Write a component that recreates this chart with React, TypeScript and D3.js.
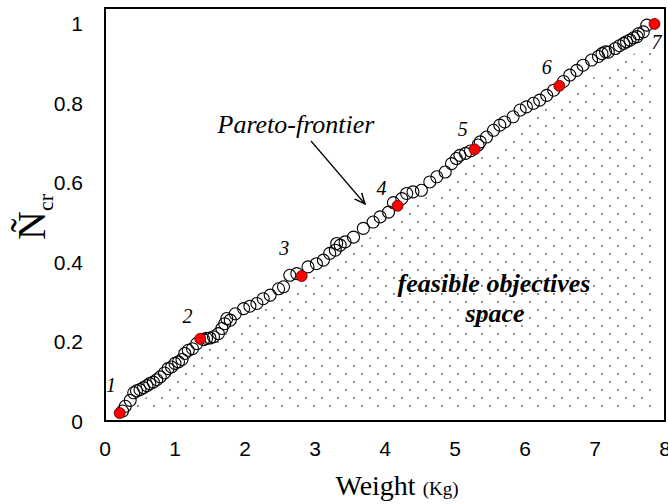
import React from "react";
import * as d3 from "d3";

// Pareto front (hollow circles)
const frontierWeight = [
  0.25, 0.29, 0.36, 0.41, 0.45, 0.5, 0.55, 0.6, 0.64, 0.69, 0.74, 0.79, 0.85, 0.9, 0.95, 1.0, 1.05,
  1.1, 1.14, 1.19, 1.25, 1.31, 1.41, 1.45, 1.5, 1.55, 1.62, 1.67, 1.71, 1.74, 1.79, 1.86, 1.98,
  2.07, 2.17, 2.26, 2.36, 2.48, 2.55, 2.64, 2.74, 2.9, 3.02, 3.12, 3.21, 3.29, 3.31, 3.36, 3.43,
  3.55, 3.69, 3.83, 3.93, 4.05, 4.12, 4.24, 4.31, 4.4, 4.52, 4.64, 4.74, 4.86, 4.95, 5.02, 5.07,
  5.15, 5.22, 5.33, 5.36, 5.45, 5.55, 5.64, 5.71, 5.83, 5.93, 6.02, 6.12, 6.21, 6.31, 6.41, 6.55,
  6.64, 6.74, 6.83, 6.95, 7.05, 7.1, 7.15, 7.19, 7.29, 7.35, 7.41, 7.45, 7.5, 7.55, 7.6, 7.62, 7.69,
  7.74,
];
const frontierN = [
  0.025, 0.037, 0.052, 0.071, 0.076, 0.079, 0.084, 0.089, 0.094, 0.098, 0.104, 0.111, 0.121, 0.132,
  0.136, 0.145, 0.149, 0.155, 0.17, 0.178, 0.182, 0.195, 0.205, 0.208, 0.209, 0.212, 0.22, 0.233,
  0.245, 0.258, 0.254, 0.27, 0.283, 0.289, 0.296, 0.308, 0.317, 0.333, 0.338, 0.367, 0.371, 0.388,
  0.396, 0.405, 0.422, 0.43, 0.447, 0.443, 0.451, 0.463, 0.485, 0.501, 0.514, 0.526, 0.55, 0.56,
  0.573, 0.577, 0.581, 0.602, 0.615, 0.627, 0.648, 0.661, 0.669, 0.674, 0.68, 0.695, 0.703, 0.715,
  0.732, 0.745, 0.753, 0.766, 0.783, 0.791, 0.8, 0.808, 0.82, 0.833, 0.855, 0.871, 0.883, 0.896,
  0.909, 0.918, 0.925, 0.93, 0.929, 0.938, 0.945, 0.951, 0.955, 0.959, 0.965, 0.968, 0.975, 0.98,
  0.997,
];

// highlighted designs 1..7
const selectedWeight = [0.21, 1.36, 2.81, 4.18, 5.28, 6.49, 7.85];
const selectedN = [0.02, 0.207, 0.365, 0.542, 0.684, 0.844, 1.0];
const selectedLabels = ["1", "2", "3", "4", "5", "6", "7"];
const labelWeight = [0.086, 1.18, 2.56, 3.95, 5.11, 6.31, 7.88];
const labelN = [0.074, 0.246, 0.419, 0.57, 0.718, 0.875, 0.938];

// dotted feasible region outline
const regionWeight = [0.36, 1.45, 2.85, 4.25, 5.35, 6.55, 7.8, 7.8];
const regionN = [0.025, 0.19, 0.345, 0.52, 0.66, 0.82, 0.95, 0.025];

const xTicks = [0, 1, 2, 3, 4, 5, 6, 7, 8];
const yTicks = [0, 0.2, 0.4, 0.6, 0.8, 1];

export default function App() {
  const left = 105, right = 665, top = 8, bottom = 421;
  const x = d3.scaleLinear().domain([0, 8]).range([left, right]);
  const y = d3.scaleLinear().domain([0, 1.04]).range([bottom, top]);

  const region = d3
    .line<number>()
    .x((i) => x(regionWeight[i]))
    .y((i) => y(regionN[i]))(d3.range(regionWeight.length)) + "Z";

  const serif = "'Liberation Serif', 'Times New Roman', serif";
  const sans = "'Liberation Sans', Arial, sans-serif";

  return (
    <svg width={668} height={504} style={{ position: "absolute", left: 0, top: 0 }}>
      <defs>
        <pattern id="dots" patternUnits="userSpaceOnUse" x={1} y={13} width={16} height={16}>
          <rect x={0} y={0} width={1.8} height={1.8} fill="#777" />
          <rect x={8} y={8} width={1.8} height={1.8} fill="#777" />
        </pattern>
        <marker id="arr" viewBox="0 0 10 10" refX={9} refY={5} markerWidth={12} markerHeight={12} orient="auto" markerUnits="userSpaceOnUse">
          <path d="M0,1 L9,5 L0,9" fill="none" stroke="#000" strokeWidth={1.2} />
        </marker>
      </defs>
      <rect x={0} y={0} width={668} height={504} fill="#fff" />
      <path d={region} fill="url(#dots)" />

      {frontierWeight.map((w, i) => (
        <circle key={"f" + i} cx={x(w)} cy={y(frontierN[i])} r={6} fill="none" stroke="#000" strokeWidth={1.1} />
      ))}
      {selectedWeight.map((w, i) => (
        <circle key={"s" + i} cx={x(w)} cy={y(selectedN[i])} r={5.5} fill="#ff0000" stroke="#5a0000" strokeWidth={0.8} />
      ))}
      {selectedLabels.map((t, i) => (
        <text key={"l" + i} x={x(labelWeight[i])} y={y(labelN[i])} fontFamily={serif} fontStyle="italic" fontSize={20} textAnchor="middle">
          {t}
        </text>
      ))}

      <rect x={left} y={top} width={right - left} height={bottom - top} fill="none" stroke="#000" strokeWidth={2} />

      {xTicks.map((t) => (
        <text key={"x" + t} x={x(t)} y={456} fontFamily={sans} fontSize={21} textAnchor="middle">
          {t}
        </text>
      ))}
      {yTicks.map((t) => (
        <text key={"y" + t} x={83} y={y(t) + 7.5} fontFamily={sans} fontSize={21} textAnchor="end">
          {t}
        </text>
      ))}

      <text x={296} y={133} fontFamily={serif} fontStyle="italic" fontSize={26} textAnchor="middle">
        Pareto-frontier
      </text>
      <line x1={311} y1={141} x2={365} y2={204} stroke="#000" strokeWidth={1.2} markerEnd="url(#arr)" />

      <text x={494} y={292} fontFamily={serif} fontStyle="italic" fontWeight="bold" fontSize={26} textAnchor="middle">
        feasible objectives
      </text>
      <text x={495} y={322} fontFamily={serif} fontStyle="italic" fontWeight="bold" fontSize={26} textAnchor="middle">
        space
      </text>

      <text x={397} y={495} fontFamily={serif} fontSize={28} textAnchor="middle">
        Weight <tspan fontSize={19}>(Kg)</tspan>
      </text>

      <g transform="translate(45,240) rotate(-90)">
        <text x={0} y={0} fontFamily={serif} fontSize={40} textAnchor="start">
          Ñ<tspan fontSize={22} dy={8}>cr</tspan>
        </text>
      </g>
    </svg>
  );
}
